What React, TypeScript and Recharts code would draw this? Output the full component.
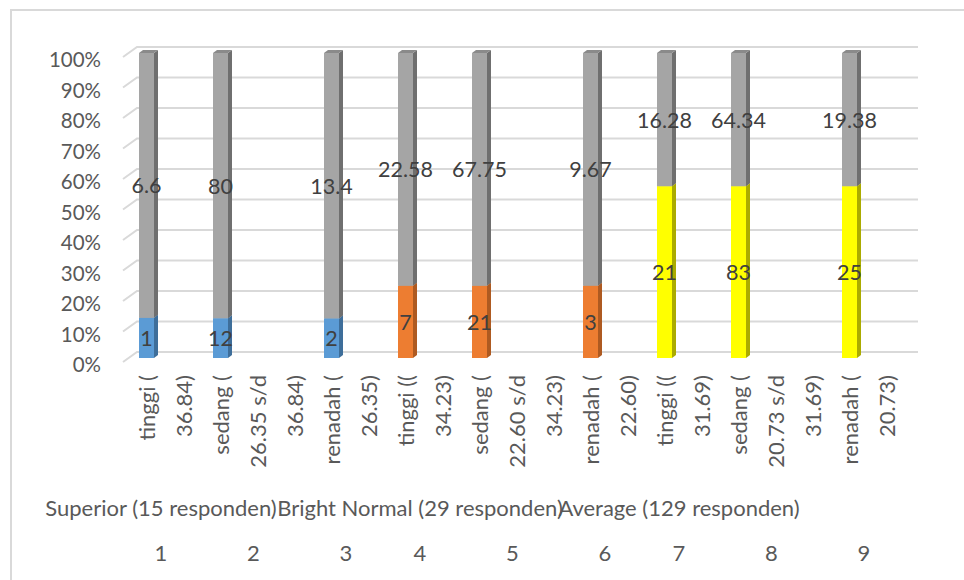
import React from 'react';
import { BarChart, Bar, XAxis, YAxis, CartesianGrid, LabelList } from 'recharts';

// ---- data ----
const categoryLines: string[][] = [
  ['tinggi (', '36.84)'],
  ['sedang (', '26.35 s/d', '36.84)'],
  ['renadah (', '26.35)'],
  ['tinggi ((', '34.23)'],
  ['sedang (', '22.60 s/d', '34.23)'],
  ['renadah (', '22.60)'],
  ['tinggi ((', '31.69)'],
  ['sedang (', '20.73 s/d', '31.69)'],
  ['renadah (', '20.73)'],
];
const groupLabels = [
  'Superior (15 responden)', '', '',
  'Bright Normal (29 responden)', '', '',
  'Average (129 responden)', '', '',
];
const categoryNumbers = ['1', '2', '3', '4', '5', '6', '7', '8', '9'];
const superiorValues = [1, 12, 2, null, null, null, null, null, null];
const brightNormalValues = [null, null, null, 7, 21, 3, null, null, null];
const averageValues = [null, null, null, null, null, null, 21, 83, 25];
const remainderValues = [6.6, 80, 13.4, 22.58, 67.75, 9.67, 16.28, 64.34, 19.38];
const percentTicks = [0, 0.1, 0.2, 0.3, 0.4, 0.5, 0.6, 0.7, 0.8, 0.9, 1];

// ---- table built from the arrays ----
type Row = { slot: number; line: string; sup: number | null; bri: number | null; avg: number | null; rem: number | null };
const rows: Row[] = [];
const spanCenters: number[] = [];
categoryLines.forEach((lines, c) => {
  const start = rows.length;
  lines.forEach((line, j) => {
    rows.push({
      slot: rows.length,
      line,
      sup: j === 0 ? superiorValues[c] : null,
      bri: j === 0 ? brightNormalValues[c] : null,
      avg: j === 0 ? averageValues[c] : null,
      rem: j === 0 ? remainderValues[c] : null,
    });
  });
  spanCenters.push((start + rows.length) / 2);
});

// ---- style ----
const FONT = 'Lato, "Liberation Sans", sans-serif';
const AXIS_TEXT = '#595959';
const LABEL_TEXT = '#404040';
const GRID = '#D9D9D9';

const makeBox = (front: string, side: string, top: string) => (p: any) => {
  const { x, y, width, height } = p;
  if (!(height > 0.01) || !isFinite(y)) return <g />;
  const dx = 4, dy = 3;
  return (
    <g>
      <rect x={x} y={y} width={width} height={height} fill={front} />
      <polygon points={`${x + width},${y} ${x + width + dx},${y - dy} ${x + width + dx},${y + height - dy} ${x + width},${y + height}`} fill={side} />
      <polygon points={`${x},${y} ${x + dx},${y - dy} ${x + width + dx},${y - dy} ${x + width},${y}`} fill={top} />
    </g>
  );
};

const renderLabel = (p: any) => {
  const vb = p.viewBox && p.viewBox.width !== undefined ? p.viewBox : p;
  const { x, y, width, height } = vb;
  const v = p.value;
  if (v === null || v === undefined || v === 0 || !(height > 0.01)) return <g />;
  return (
    <text x={x + width / 2} y={y + height / 2} textAnchor="middle" dominantBaseline="central"
      fill={LABEL_TEXT} fontSize={21.5} fontFamily={FONT}>{v}</text>
  );
};

const gridLine = (p: any) => {
  const { x1, x2, y1 } = p;
  return (
    <path key={p.key} d={`M${x1 - 5},${y1 + 4} L${x1 + 9},${y1 - 6} L${x2 + 13},${y1 - 6}`}
      stroke={GRID} strokeWidth={2} fill="none" />
  );
};

const YTick = (p: any) => (
  <text x={p.x - 27} y={p.y + 6} textAnchor="end" dominantBaseline="central"
    fill={AXIS_TEXT} fontSize={20.5} fontFamily={FONT}>
    {Math.round(p.payload.value * 100)}%
  </text>
);

const LineTick = (p: any) => {
  const r = rows[p.payload.value];
  const yy = p.y + 17;
  return (
    <text x={p.x} y={yy} transform={`rotate(-90, ${p.x}, ${yy})`} textAnchor="end" dominantBaseline="central"
      fill={AXIS_TEXT} fontSize={22} fontFamily={FONT}>{r ? r.line : ''}</text>
  );
};

const GroupTick = (p: any) => (
  <text x={p.x - 4} y={p.y + 19} textAnchor="middle" dominantBaseline="central"
    fill={AXIS_TEXT} fontSize={22} fontFamily={FONT}>{groupLabels[p.index] ?? ''}</text>
);

const NumTick = (p: any) => (
  <text x={p.x - 4} y={p.y + 26} textAnchor="middle" dominantBaseline="central"
    fill={AXIS_TEXT} fontSize={22} fontFamily={FONT}>{categoryNumbers[p.index] ?? ''}</text>
);

export default function App() {
  return (
    <div style={{ position: 'absolute', left: 0, top: 0, width: 964, height: 580, overflow: 'hidden', background: '#fff' }}>
      <div style={{ position: 'absolute', left: 10, top: 9, width: 990, height: 600, border: `2px solid ${GRID}`, boxSizing: 'border-box' }} />
      <div style={{ position: 'absolute', left: 0, top: 0 }}>
        <BarChart width={964} height={580} data={rows} stackOffset="expand"
          margin={{ top: 53, right: 59, bottom: 8, left: 0 }} barSize={15}>
          <CartesianGrid xAxisId="x1main" vertical={false} horizontal={gridLine} />
          <YAxis width={128} domain={[0, 1]} ticks={percentTicks} axisLine={false} tickLine={false}
            tickSize={0} tickMargin={0} tick={<YTick />} interval={0} />
          <XAxis xAxisId="x1main" dataKey="slot" type="category" interval={0} height={130}
            axisLine={false} tickLine={false} tickSize={0} tickMargin={0} tick={<LineTick />} />
          <XAxis xAxisId="x2grp" dataKey="slot" type="number" domain={[0, rows.length]} allowDataOverflow
            ticks={spanCenters} interval={0} height={38} axisLine={false} tickLine={false}
            tickSize={0} tickMargin={0} tick={<GroupTick />} />
          <XAxis xAxisId="x3num" dataKey="slot" type="number" domain={[0, rows.length]} allowDataOverflow
            ticks={spanCenters} interval={0} height={46} axisLine={false} tickLine={false}
            tickSize={0} tickMargin={0} tick={<NumTick />} />
          <Bar xAxisId="x1main" dataKey="sup" stackId="s" isAnimationActive={false}
            shape={makeBox('#5B9BD5', '#3E6E9A', '#4A85BC')}>
            <LabelList dataKey="sup" content={renderLabel} />
          </Bar>
          <Bar xAxisId="x1main" dataKey="bri" stackId="s" isAnimationActive={false}
            shape={makeBox('#ED7D31', '#AE5A21', '#D06A26')}>
            <LabelList dataKey="bri" content={renderLabel} />
          </Bar>
          <Bar xAxisId="x1main" dataKey="avg" stackId="s" isAnimationActive={false}
            shape={makeBox('#FFFF00', '#ABAB00', '#D8D800')}>
            <LabelList dataKey="avg" content={renderLabel} />
          </Bar>
          <Bar xAxisId="x1main" dataKey="rem" stackId="s" isAnimationActive={false}
            shape={makeBox('#A5A5A5', '#6F6F6F', '#8A8A8A')}>
            <LabelList dataKey="rem" content={renderLabel} />
          </Bar>
        </BarChart>
      </div>
    </div>
  );
}
